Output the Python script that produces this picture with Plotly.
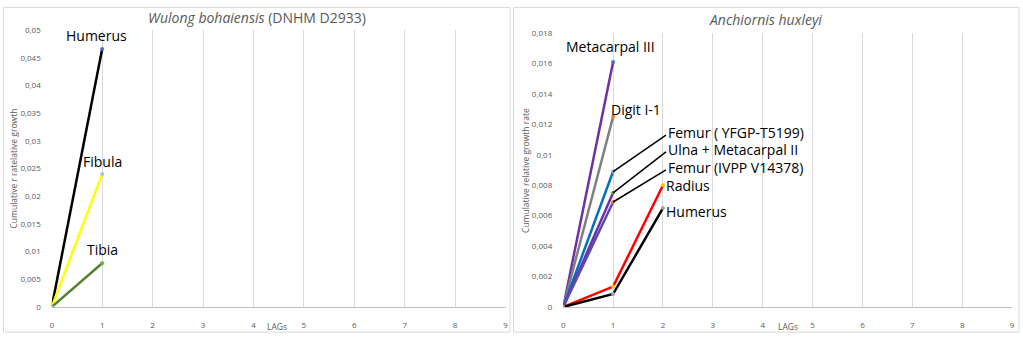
import plotly.graph_objects as go

# ---------------- data ----------------
lags_w = [0, 1]
wulong_names = ["Humerus", "Fibula", "Tibia"]
wulong_values = [[0, 0.0466], [0, 0.0240], [0, 0.0079]]
wulong_colors = ["#000000", "#FFFF00", "#548235"]
wulong_marker_colors = ["#4472C4", "#9DC3E6", "#70AD47"]
wulong_label_x = [0.88, 1.0, 1.0]
wulong_label_y = [0.0490, 0.0262, 0.0103]

anch_names = ["Metacarpal III", "Digit I-1", "Femur ( YFGP-T5199)",
              "Ulna + Metacarpal II", "Femur (IVPP V14378)", "Radius", "Humerus"]
anch_x = [[0, 1], [0, 1], [0, 1], [0, 1], [0, 1], [0, 1, 2], [0, 1, 2]]
anch_values = [[0, 0.0161], [0, 0.0125], [0, 0.0089], [0, 0.0075],
               [0, 0.0069], [0, 0.00134, 0.0080], [0, 0.00085, 0.0065]]
anch_colors = ["#7030A0", "#7F7F7F", "#0070C0", "#7030A0", "#5B48B8", "#FF0000", "#000000"]
anch_marker_colors = ["#4472C4", "#ED7D31", "#A5A5A5", "#70AD47", "#ED7D31", "#FFC000", "#A5A5A5"]
anch_label_x = [0.95, 0.93, 2.09, 2.09, 2.09, 2.05, 2.05]
anch_label_y = [0.0171, 0.0130, 0.01148, 0.01037, 0.00919, 0.00798, 0.0063]
anch_label_anchor = ["center", "left", "left", "left", "left", "left", "left"]
anch_callout = [False, False, True, True, True, False, False]

x_ticks = list(range(0, 10))
y_ticks_w = [0, 0.005, 0.01, 0.015, 0.02, 0.025, 0.03, 0.035, 0.04, 0.045, 0.05]
y_text_w = ["0", "0,005", "0,01", "0,015", "0,02", "0,025", "0,03", "0,035", "0,04", "0,045", "0,05"]
y_ticks_a = [0, 0.002, 0.004, 0.006, 0.008, 0.01, 0.012, 0.014, 0.016, 0.018]
y_text_a = ["0", "0,002", "0,004", "0,006", "0,008", "0,01", "0,012", "0,014", "0,016", "0,018"]

W, H = 1023, 341
def px(x):
    return x / W
def py(y):
    return 1 - y / H

fig = go.Figure()

for name, vals, col, mcol in zip(wulong_names, wulong_values, wulong_colors, wulong_marker_colors):
    fig.add_trace(go.Scatter(x=lags_w, y=vals, mode="lines+markers", name=name,
                             line=dict(color=col, width=2.5),
                             marker=dict(color=["#9DC3E6", mcol], size=4),
                             xaxis="x", yaxis="y", showlegend=False))

for name, xs, vals, col, mcol in zip(anch_names, anch_x, anch_values, anch_colors, anch_marker_colors):
    fig.add_trace(go.Scatter(x=xs, y=vals, mode="lines+markers", name=name,
                             line=dict(color=col, width=2.5),
                             marker=dict(color=mcol, size=4),
                             xaxis="x2", yaxis="y2", showlegend=False))

annotations = []
shapes = []
label_font = dict(family="Open Sans, sans-serif", size=14, color="#000000")

for name, lx, ly in zip(wulong_names, wulong_label_x, wulong_label_y):
    annotations.append(dict(x=lx, y=ly, xref="x", yref="y", text=name, showarrow=False,
                            font=label_font, xanchor="center", yanchor="middle"))

for name, xs, vals, lx, ly, anc, co in zip(anch_names, anch_x, anch_values, anch_label_x,
                                           anch_label_y, anch_label_anchor, anch_callout):
    annotations.append(dict(x=lx, y=ly, xref="x2", yref="y2", text=name, showarrow=False,
                            font=label_font, xanchor=anc, yanchor="middle",
                            borderpad=0))
    if co:
        shapes.append(dict(type="line", xref="x2", yref="y2", x0=xs[-1], y0=vals[-1],
                           x1=lx - 0.03, y1=ly - 0.00018, line=dict(color="#000000", width=1.5)))

gray = "#595959"
def paper_text(x, y, text, size, angle=0):
    return dict(x=px(x), y=py(y), xref="paper", yref="paper", showarrow=False, text=text,
                xanchor="center", yanchor="middle", textangle=angle,
                font=dict(family="Open Sans, sans-serif", size=size, color=gray))

annotations += [
    paper_text(256, 12, "<i>Wulong bohaiensis</i> (DNHM D2933)", 14),
    paper_text(767, 14, "<i>Anchiornis huxleyi</i>", 14),
    paper_text(276, 331, "LAGs", 8.5),
    paper_text(790, 331, "LAGs", 8.5),
    paper_text(12, 168, "Cumulative r ratelative growth", 8.5, -90),
    paper_text(526, 170, "Cumulative relative growth rate", 8.5, -90),
]

shapes += [
    dict(type="rect", xref="paper", yref="paper", x0=px(1.5), x1=px(510.5), y0=py(1.5), y1=py(337),
         line=dict(color="#D9D9D9", width=1)),
    dict(type="rect", xref="paper", yref="paper", x0=px(514), x1=px(1022), y0=py(1.5), y1=py(337),
         line=dict(color="#D9D9D9", width=1)),
]

tick_font = dict(family="Open Sans, sans-serif", size=8, color=gray)
axis_common = dict(showgrid=True, gridcolor="#D9D9D9", gridwidth=1, zeroline=False,
                   showline=True, linecolor="#BFBFBF", linewidth=1, ticks="",
                   ticklabelstandoff=10, tickfont=tick_font)
yaxis_common = dict(showgrid=False, zeroline=False, showline=False, ticks="",
                    ticklabelstandoff=10, tickfont=tick_font)

fig.update_layout(
    width=W, height=H, margin=dict(l=0, r=0, t=0, b=0),
    paper_bgcolor="white", plot_bgcolor="white",
    xaxis=dict(domain=[px(50), px(506)], range=[0, 9], tickvals=x_ticks, anchor="y", **axis_common),
    yaxis=dict(domain=[py(311), py(25)], range=[0, 0.05], tickvals=y_ticks_w, ticktext=y_text_w,
               anchor="x", **yaxis_common),
    xaxis2=dict(domain=[px(564), px(1015)], range=[0, 9], tickvals=x_ticks, anchor="y2", **axis_common),
    yaxis2=dict(domain=[py(311), py(28)], range=[0, 0.018], tickvals=y_ticks_a, ticktext=y_text_a,
                anchor="x2", **yaxis_common),
    annotations=annotations, shapes=shapes,
)

fig.write_html("out.html")
